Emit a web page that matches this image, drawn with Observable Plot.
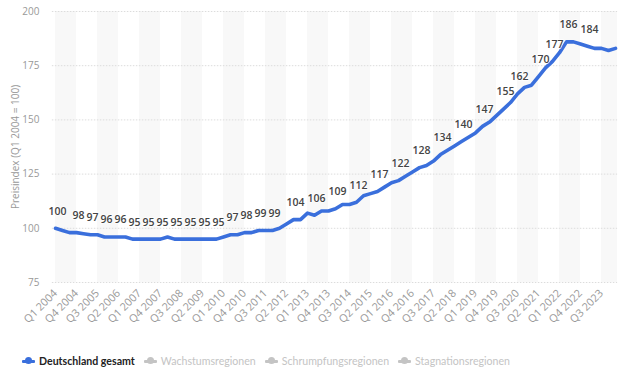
<!DOCTYPE html>
<html>
<head>
<meta charset="utf-8">
<script src="https://cdn.jsdelivr.net/npm/d3@7"></script>
<script src="https://cdn.jsdelivr.net/npm/@observablehq/plot@0.6"></script>
<style>
  html, body { margin: 0; padding: 0; background: #fff; }
  body { width: 624px; height: 373px; position: relative; overflow: hidden; font-family: Lato, "Open Sans", sans-serif; }
  #chart { position: absolute; left: 0; top: 0; }
  #legend { position: absolute; left: 0; top: 352px; width: 624px; height: 18px; display: flex; align-items: center; font-size: 10.6px; }
  .item { display: flex; align-items: center; margin-right: 9px; color: #c4c4c4; }
  .item:first-child { margin-left: 22px; color: #222; font-weight: bold; }
  .mk { position: relative; width: 13px; height: 8px; margin-right: 4px; }
  .mk::before { content: ""; position: absolute; left: 0; right: 0; top: 3px; height: 2.5px; background: currentColor; border-radius: 1px; }
  .mk::after { content: ""; position: absolute; left: 3px; top: 0; width: 7px; height: 7px; border-radius: 50%; background: currentColor; }
</style>
</head>
<body>
<div id="chart"></div>
<div id="legend"></div>
<script>
// Preisindex Deutschland gesamt, Q1 2004 .. Q1 2024 (quarterly)
const values = [
  100, 99, 98, 98, 97.5, 97, 97, 96, 96, 96,
  96, 95, 95, 95, 95, 95, 96, 95, 95, 95,
  95, 95, 95, 95, 96, 97, 97, 98, 98, 99,
  99, 99, 100, 102, 104, 104, 107, 106, 108, 108,
  109, 111, 111, 112, 115, 116, 117, 119, 121, 122,
  124, 126, 128, 129, 131, 134, 136, 138, 140, 142,
  144, 147, 149, 152, 155, 158, 162, 165, 166, 170,
  174, 177, 181, 186, 186, 185, 184, 183, 183, 182,
  183
];
// quarters that carry a value label
const labelIdx = [0, 3, 5, 7, 9, 11, 13, 15, 17, 19, 21, 23, 25, 27, 29, 31,
  34, 37, 40, 43, 46, 49, 52, 55, 58, 61, 64, 66, 69, 71, 73, 76];
const tickLabels = ["Q1 2004","Q4 2004","Q3 2005","Q2 2006","Q1 2007","Q4 2007","Q3 2008",
  "Q2 2009","Q1 2010","Q4 2010","Q3 2011","Q2 2012","Q1 2013","Q4 2013","Q3 2014",
  "Q2 2015","Q1 2016","Q4 2016","Q3 2017","Q2 2018","Q1 2019","Q4 2019","Q3 2020",
  "Q2 2021","Q1 2022","Q4 2022","Q3 2023"];
const yTicks = [75, 100, 125, 150, 175, 200];
const seriesNames = ["Deutschland gesamt", "Wachstumsregionen", "Schrumpfungsregionen", "Stagnationsregionen"];

const tickStep = 3;
const tickIdx = tickLabels.map((_, i) => i * tickStep);
const data = values.map((v, i) => ({i, v}));
const labeled = labelIdx.map(i => ({i, v: values[i]}));
const bands = tickIdx.filter((_, k) => k % 2 === 0).map(i => ({x1: i, x2: Math.min(i + tickStep, values.length - 1 + 0.3)}));

const blue = "#3a6fdc";
const chart = Plot.plot({
  width: 624,
  height: 340,
  marginLeft: 55,
  marginRight: 9,
  marginTop: 11,
  marginBottom: 58,
  style: {fontFamily: "'Open Sans', Lato, sans-serif", fontSize: "10px", color: "#888", background: "transparent"},
  x: {domain: [0, values.length - 1], axis: null},
  y: {domain: [75, 200], axis: null},
  marks: [
    Plot.rect(bands, {x1: "x1", x2: "x2", y1: 75, y2: 200, fill: "#f8f8f8"}),
    Plot.ruleY(yTicks, {x1: -0.45, x2: values.length - 1 + 0.3, stroke: "#dcdcdc", strokeDasharray: "1.5,1.5", strokeWidth: 1}),
    Plot.axisY(yTicks, {tickSize: 0, tickPadding: 16, fill: "#999", fontSize: 10,
      label: "Preisindex (Q1 2004 = 100)", labelAnchor: "center", labelArrow: "none", labelOffset: 44}),
    Plot.axisX(tickIdx, {tickSize: 0, tickPadding: 9, tickRotate: -45, fill: "#999", fontSize: 10.8,
      tickFormat: (d) => tickLabels[tickIdx.indexOf(d)], label: null}),
    Plot.line(data, {x: "i", y: "v", stroke: blue, strokeWidth: 3.6, curve: "linear"}),
    Plot.text(labeled, {x: "i", y: "v", text: d => String(Math.round(d.v)), dy: -17, dx: 2,
      fill: "#444", fontWeight: 600, fontSize: 10.5, stroke: "white", strokeWidth: 1.5, paintOrder: "stroke"})
  ]
});
document.getElementById("chart").appendChild(chart);

const legend = document.getElementById("legend");
seriesNames.forEach((name, k) => {
  const it = document.createElement("div");
  it.className = "item";
  const mk = document.createElement("span");
  mk.className = "mk";
  if (k === 0) mk.style.color = blue;
  const tx = document.createElement("span");
  tx.textContent = name;
  it.appendChild(mk);
  it.appendChild(tx);
  legend.appendChild(it);
});
</script>
</body>
</html>
